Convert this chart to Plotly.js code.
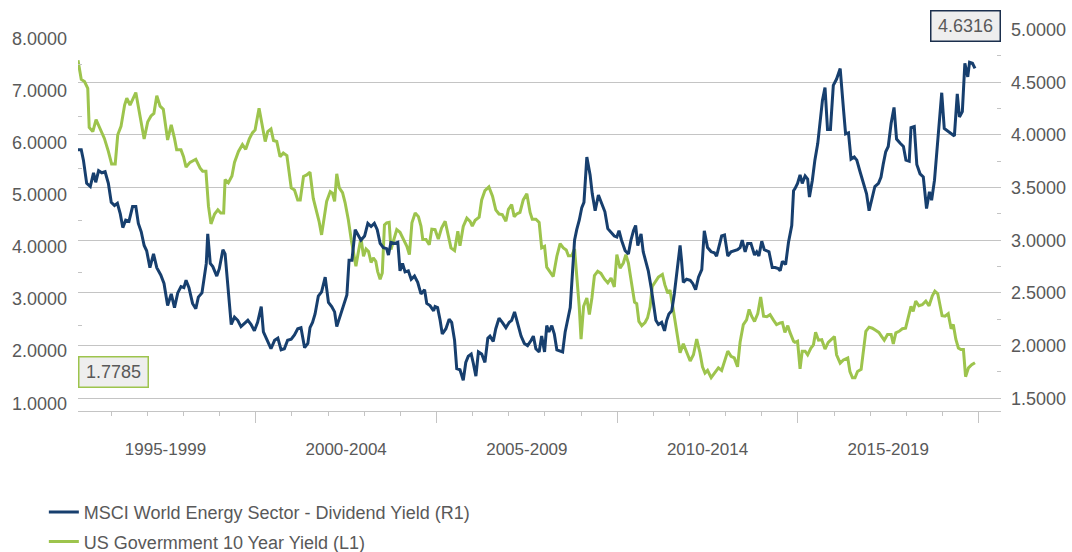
<!DOCTYPE html>
<html><head><meta charset="utf-8">
<script src="https://cdn.plot.ly/plotly-3.0.1.min.js"></script>
<style>html,body{margin:0;padding:0;background:#fff}#chart{width:1072px;height:552px}</style>
</head><body><div id="chart"></div>
<script>
// US Government 10 Year Yield (left axis, L1)
const yearsGov = [
1995.08,1995.17,1995.26,1995.35,1995.39,1995.49,1995.58,1995.69,1995.81,1995.92,1996.01,1996.11,1996.18,1996.27,1996.37,1996.43,1996.52,1996.68,1996.80,1996.91,1997.01,1997.10,1997.18,1997.26,1997.35,1997.44,1997.56,1997.66,1997.75,1997.81,1997.93,1998.00,1998.07,1998.18,1998.34,1998.46,1998.53,1998.62,1998.69,1998.76,1998.86,1998.95,1999.03,1999.11,1999.15,1999.24,1999.34,1999.41,1999.52,1999.63,1999.72,1999.82,1999.91,
1999.98,2000.09,2000.18,2000.26,2000.33,2000.42,2000.49,2000.58,2000.67,2000.76,2000.86,2000.98,2001.07,2001.16,2001.23,2001.32,2001.41,2001.50,2001.59,2001.69,2001.75,2001.82,2001.90,2001.96,2002.06,2002.12,2002.18,2002.24,2002.31,2002.40,2002.47,2002.56,2002.64,2002.70,2002.77,2002.84,2002.91,2002.98,2003.05,2003.12,2003.19,2003.25,2003.32,2003.37,2003.44,2003.50,2003.56,2003.62,2003.69,2003.74,2003.81,2003.90,2003.99,2004.09,2004.18,2004.25,2004.32,2004.41,2004.50,2004.57,2004.62,2004.71,2004.80,2004.87,
2004.96,2005.05,2005.14,2005.24,2005.33,2005.40,2005.50,2005.59,2005.65,2005.74,2005.84,2005.93,2005.99,2006.07,2006.18,2006.25,2006.34,2006.45,2006.55,2006.64,2006.73,2006.82,2006.92,2006.99,2007.08,2007.15,2007.22,2007.31,2007.40,2007.50,2007.59,2007.65,2007.75,2007.84,2007.91,2007.99,2008.05,2008.14,2008.23,2008.33,2008.42,2008.51,2008.59,2008.65,2008.74,2008.82,2008.88,2008.95,2009.00,2009.07,2009.16,2009.23,2009.30,2009.37,2009.46,2009.55,2009.65,2009.74,2009.83,2009.92,
2009.99,2010.08,2010.17,2010.24,2010.31,2010.40,2010.48,2010.54,2010.60,2010.68,2010.77,2010.84,2010.91,2010.97,2011.05,2011.14,2011.25,2011.32,2011.40,2011.46,2011.53,2011.60,2011.67,2011.74,2011.83,2011.92,2012.02,2012.11,2012.20,2012.29,2012.36,2012.43,2012.50,2012.60,2012.69,2012.80,2012.89,2012.98,2013.06,2013.15,2013.24,2013.33,2013.40,2013.49,2013.58,2013.65,2013.72,2013.80,2013.89,2013.97,2014.05,2014.14,2014.23,2014.32,2014.41,2014.51,2014.57,2014.64,2014.72,2014.78,2014.88,
2014.92,2014.99,2015.06,2015.12,2015.20,2015.27,2015.36,2015.43,2015.49,2015.57,2015.66,2015.75,2015.84,2015.93,2016.01,2016.07,2016.17,2016.26,2016.38,2016.44,2016.51,2016.58,2016.65,2016.75,2016.81,2016.88,2016.97,2017.06,2017.15,2017.24,2017.32,2017.39,2017.48,2017.58,2017.64,2017.71,2017.80,2017.89,2017.98,2018.06,2018.13,2018.19,2018.26,2018.35,2018.44,2018.54,2018.63,2018.72,2018.79,2018.87,2018.93,2018.99,2019.07,2019.16,2019.24,2019.30,2019.37,2019.44,2019.51,2019.58,2019.64,2019.72,2019.81,2019.90
];
const govYield = [
7.58,7.21,7.17,7.04,6.29,6.21,6.44,6.28,6.08,5.83,5.59,5.59,6.15,6.31,6.72,6.85,6.72,6.96,6.50,6.07,6.40,6.51,6.56,6.90,6.70,6.64,6.05,6.34,6.08,5.86,5.86,5.73,5.53,5.62,5.68,5.51,5.45,5.45,4.78,4.44,4.63,4.71,4.65,4.65,5.29,5.23,5.36,5.62,5.83,5.96,5.87,6.07,6.19,
6.24,6.66,6.31,6.02,6.21,6.26,6.04,6.02,5.73,5.80,5.75,5.13,5.09,4.90,4.90,5.35,5.38,5.43,4.93,4.68,4.49,4.23,4.65,4.87,5.06,5.03,4.87,5.40,5.13,5.04,4.85,4.52,4.14,3.88,3.63,3.91,4.17,3.82,3.96,3.91,3.70,3.79,3.72,3.53,3.38,3.50,4.42,4.46,4.47,3.95,4.14,4.33,4.28,4.15,4.01,3.85,4.46,4.65,4.58,4.40,4.14,4.14,4.04,4.34,
4.33,4.15,4.36,4.49,4.23,3.98,3.93,4.30,4.02,4.39,4.55,4.49,4.40,4.51,4.57,4.90,5.08,5.15,4.97,4.71,4.63,4.62,4.49,4.72,4.81,4.58,4.63,4.66,4.90,5.02,4.66,4.53,4.53,4.47,3.98,4.01,3.61,3.53,3.43,3.82,4.06,3.98,3.94,3.83,3.83,3.96,3.50,2.85,2.23,2.86,3.02,2.70,3.02,3.45,3.53,3.49,3.38,3.31,3.40,3.23,
3.85,3.59,3.69,3.85,3.69,3.31,2.94,2.91,2.57,2.49,2.55,2.64,2.85,3.24,3.32,3.42,3.47,3.27,3.11,3.17,2.89,2.57,2.22,1.97,2.14,1.97,1.81,1.93,2.23,1.97,1.70,1.58,1.63,1.49,1.58,1.68,1.63,1.83,2.00,1.90,1.87,1.70,2.17,2.51,2.60,2.80,2.67,2.57,2.72,3.04,2.67,2.66,2.70,2.60,2.51,2.54,2.55,2.36,2.49,2.36,2.19,
2.17,2.19,1.66,2.00,2.00,1.93,2.06,2.12,2.36,2.21,2.22,2.04,2.17,2.23,2.28,1.93,1.77,1.83,1.87,1.61,1.49,1.49,1.61,1.65,2.00,2.38,2.46,2.44,2.40,2.36,2.28,2.21,2.32,2.32,2.14,2.35,2.38,2.43,2.44,2.70,2.86,2.76,2.96,2.87,2.89,2.96,2.87,3.06,3.15,3.10,2.87,2.68,2.67,2.72,2.43,2.51,2.23,2.06,2.03,2.03,1.51,1.68,1.74,1.7785
];
// MSCI World Energy Sector - Dividend Yield (right axis, R1)
const yearsMsci = [
1995.08,1995.17,1995.23,1995.32,1995.42,1995.51,1995.57,1995.65,1995.74,1995.83,1995.92,1996.00,1996.09,1996.17,1996.25,1996.32,1996.40,1996.49,1996.59,1996.68,1996.75,1996.83,1996.91,1996.98,1997.07,1997.17,1997.26,1997.37,1997.46,1997.56,1997.66,1997.75,1997.84,1997.93,1998.01,1998.07,1998.15,1998.25,1998.34,1998.41,1998.51,1998.58,1998.63,1998.67,1998.74,1998.81,1998.92,1998.99,1999.09,1999.15,1999.23,1999.32,1999.41,1999.50,1999.59,1999.70,1999.78,1999.87,1999.96,
2000.05,2000.15,2000.21,2000.30,2000.42,2000.52,2000.61,2000.70,2000.79,2000.88,2000.98,2001.07,2001.16,2001.25,2001.35,2001.44,2001.50,2001.57,2001.64,2001.73,2001.82,2001.92,2002.01,2002.10,2002.18,2002.24,2002.33,2002.42,2002.52,2002.58,2002.66,2002.75,2002.84,2002.91,2003.01,2003.10,2003.19,2003.28,2003.36,2003.44,2003.53,2003.62,2003.67,2003.74,2003.84,2003.93,2003.99,2004.06,2004.13,2004.22,2004.30,2004.39,2004.48,2004.57,2004.67,2004.73,2004.82,2004.92,
2004.96,2005.03,2005.10,2005.16,2005.26,2005.35,2005.42,2005.50,2005.56,2005.65,2005.74,2005.81,2005.88,2005.96,2006.02,2006.09,2006.16,2006.25,2006.34,2006.42,2006.48,2006.57,2006.64,2006.73,2006.82,2006.92,2007.01,2007.08,2007.16,2007.25,2007.34,2007.43,2007.52,2007.62,2007.68,2007.75,2007.84,2007.91,2007.99,2008.05,2008.11,2008.19,2008.26,2008.33,2008.42,2008.49,2008.56,2008.63,2008.70,2008.76,2008.82,2008.88,2008.95,2009.02,2009.08,2009.16,2009.25,2009.31,2009.39,2009.48,2009.57,2009.66,2009.74,2009.83,2009.92,
2009.99,2010.05,2010.12,2010.22,2010.31,2010.38,2010.45,2010.51,2010.57,2010.66,2010.72,2010.79,2010.86,2010.94,2011.00,2011.07,2011.14,2011.23,2011.31,2011.37,2011.43,2011.51,2011.58,2011.65,2011.74,2011.78,2011.83,2011.92,2012.02,2012.09,2012.17,2012.25,2012.34,2012.41,2012.50,2012.60,2012.69,2012.75,2012.82,2012.89,2012.97,2013.06,2013.15,2013.24,2013.33,2013.40,2013.46,2013.54,2013.61,2013.70,2013.80,2013.86,2013.92,2014.00,2014.07,2014.14,2014.20,2014.29,2014.37,2014.46,2014.51,2014.57,2014.66,2014.74,2014.83,2014.88,
2014.92,2014.99,2015.06,2015.12,2015.20,2015.27,2015.32,2015.40,2015.47,2015.55,2015.61,2015.68,2015.75,2015.82,2015.90,2015.98,2016.07,2016.17,2016.26,2016.32,2016.40,2016.47,2016.56,2016.63,2016.72,2016.81,2016.90,2016.97,2017.04,2017.13,2017.23,2017.30,2017.36,2017.43,2017.50,2017.58,2017.66,2017.73,2017.83,2017.92,2017.99,2018.08,2018.13,2018.22,2018.29,2018.38,2018.47,2018.56,2018.64,2018.70,2018.78,2018.84,2018.91,2018.98,2019.05,2019.14,2019.24,2019.33,2019.41,2019.47,2019.55,2019.62,2019.70,2019.75,2019.83,2019.90
];
const msciYield = [
3.86,3.86,3.76,3.54,3.51,3.64,3.55,3.66,3.64,3.65,3.54,3.36,3.33,3.35,3.25,3.12,3.19,3.18,3.32,3.32,3.16,3.08,2.95,2.90,2.74,2.87,2.74,2.67,2.59,2.38,2.49,2.36,2.50,2.56,2.55,2.62,2.55,2.40,2.35,2.46,2.50,2.65,2.78,3.06,2.78,2.75,2.66,2.73,2.91,2.87,2.55,2.20,2.27,2.24,2.18,2.21,2.24,2.20,2.14,
2.22,2.37,2.13,2.06,1.97,2.05,2.07,1.96,1.97,2.05,2.06,2.10,2.16,2.17,1.98,2.02,2.17,2.22,2.30,2.47,2.51,2.65,2.41,2.37,2.32,2.18,2.28,2.38,2.48,2.81,2.81,3.10,3.04,3.00,3.04,3.16,3.13,3.16,3.10,2.97,2.93,2.92,2.86,2.98,2.97,2.98,2.71,2.78,2.70,2.71,2.63,2.66,2.60,2.49,2.53,2.40,2.38,2.33,
2.37,2.36,2.24,2.11,2.16,2.25,2.22,2.05,1.78,1.77,1.67,1.84,1.90,1.92,1.83,1.71,1.94,1.92,1.84,2.07,2.09,2.04,2.16,2.26,2.22,2.17,2.22,2.24,2.32,2.21,2.09,2.02,2.00,2.05,2.09,1.97,1.94,2.09,1.94,2.19,2.13,2.19,2.11,1.96,1.95,1.94,2.13,2.25,2.36,2.68,3.00,3.10,3.19,3.31,3.36,3.79,3.62,3.44,3.28,3.43,3.35,3.27,3.11,3.07,3.04,
3.03,3.09,3.00,2.90,2.87,3.00,3.09,3.14,2.95,3.06,2.89,2.81,2.71,2.55,2.38,2.24,2.20,2.22,2.14,2.24,2.30,2.33,2.49,2.70,2.95,2.81,2.60,2.63,2.62,2.59,2.53,2.65,2.72,3.09,2.93,2.89,2.88,2.85,2.96,3.04,3.05,2.85,2.89,2.90,2.91,2.93,3.00,2.89,2.97,2.97,2.86,2.89,2.85,2.99,2.91,2.90,2.89,2.74,2.74,2.73,2.71,2.80,2.77,2.98,3.14,3.47,
3.49,3.54,3.62,3.54,3.61,3.58,3.41,3.57,3.76,3.92,4.14,4.33,4.45,4.05,4.05,4.47,4.53,4.63,4.25,4.01,4.02,3.77,3.79,3.76,3.65,3.54,3.44,3.28,3.38,3.51,3.54,3.60,3.72,3.84,3.89,4.11,4.26,3.96,3.92,3.89,3.76,3.75,4.07,4.08,3.72,3.63,3.60,3.30,3.46,3.38,3.57,3.82,4.04,4.40,4.06,4.04,4.01,3.99,4.39,4.17,4.22,4.68,4.55,4.69,4.68,4.6316
];
const seriesNames = ['MSCI World Energy Sector - Dividend Yield (R1)', 'US Govermment 10 Year Yield (L1)'];
const periodLabels = ['1995-1999', '2000-2004', '2005-2009', '2010-2014', '2015-2019'];
const periodMids = [1997.5, 2002.5, 2007.5, 2012.5, 2017.5];
const periodBounds = [2000, 2005, 2010, 2015, 2020];
const leftTicks = [1, 2, 3, 4, 5, 6, 7, 8];
const rightTicks = [1.5, 2, 2.5, 3, 3.5, 4, 4.5, 5];

const FONT = '"Liberation Sans", Arial, Helvetica, sans-serif';
const TXT = '#595959';
const BLUE = '#173f6e';
const GREEN = '#9dc44d';
const AXC = '#c4c4c4';
const XR = [1995.08, 2020.62];

const traces = [
  {x: yearsMsci, y: msciYield, yaxis: 'y2', xaxis: 'x', name: seriesNames[0], type: 'scatter', mode: 'lines',
   line: {color: BLUE, width: 3}, legendgroup: 'a', hoverinfo: 'skip'},
  {x: yearsGov, y: govYield, yaxis: 'y', xaxis: 'x', name: seriesNames[1], type: 'scatter', mode: 'lines',
   line: {color: GREEN, width: 3}, legendgroup: 'b', hoverinfo: 'skip'},
  {x: [periodMids[0]], y: [null], xaxis: 'x2', yaxis: 'y', type: 'scatter', mode: 'lines',
   showlegend: false, hoverinfo: 'skip'}
];

const layout = {
  width: 1072, height: 552,
  margin: {l: 78, r: 71, t: 29, b: 141, autoexpand: false},
  paper_bgcolor: '#ffffff', plot_bgcolor: '#ffffff',
  font: {family: FONT, color: TXT, size: 18},
  showlegend: true,
  legend: {x: -0.037, xanchor: 'left', y: -0.217, yanchor: 'top', orientation: 'v',
           font: {family: FONT, size: 18, color: TXT}, tracegroupgap: 3, bgcolor: 'rgba(0,0,0,0)'},
  xaxis: {range: XR, tickvals: periodBounds, showticklabels: false, ticks: 'outside', ticklen: 11,
          tickcolor: AXC, tickwidth: 1, automargin: false,
          minor: {tick0: 1995, dtick: 1, ticks: 'outside', ticklen: 4, tickcolor: AXC, tickwidth: 1, showgrid: false},
          showline: true, linecolor: AXC, linewidth: 1, showgrid: false, zeroline: false, fixedrange: true},
  xaxis2: {overlaying: 'x', side: 'bottom', range: XR, tickvals: periodMids, ticktext: periodLabels,
           ticks: '', showline: false, showgrid: false, zeroline: false, automargin: false,
           tickfont: {family: FONT, size: 17, color: TXT}, ticklabelstandoff: 26},
  yaxis: {range: [0.852, 8.178], tickvals: leftTicks, tickformat: '.4f', ticks: '', automargin: false,
          minor: {tick0: 0.5, dtick: 1, ticks: 'inside', ticklen: 4, tickcolor: AXC, showgrid: false},
          showgrid: false, zeroline: false, showline: false,
          tickfont: {family: FONT, size: 18, color: TXT}, ticklabelstandoff: 10},
  yaxis2: {overlaying: 'y', side: 'right', range: [1.379, 5.005], tickvals: rightTicks, tickformat: '.4f',
           showgrid: true, gridcolor: AXC, gridwidth: 1, ticks: '', automargin: false,
           minor: {tick0: 1.75, dtick: 0.5, ticks: 'inside', ticklen: 4, tickcolor: AXC, showgrid: false},
           zeroline: false, showline: false,
           tickfont: {family: FONT, size: 18, color: TXT}, ticklabelstandoff: 9},
  annotations: [
    {xref: 'paper', yref: 'paper', x: 0, xanchor: 'left', y: 0.1034, yanchor: 'middle',
     text: govYield[govYield.length - 1].toFixed(4), showarrow: false,
     bgcolor: '#eeeeee', bordercolor: GREEN, borderwidth: 1.5, borderpad: 3, width: 62, height: 23,
     font: {family: FONT, size: 18, color: TXT}},
    {xref: 'paper', yref: 'paper', x: 1, xanchor: 'right', y: 1.008, yanchor: 'middle',
     text: msciYield[msciYield.length - 1].toFixed(4), showarrow: false,
     bgcolor: '#eeeeee', bordercolor: '#1b2f4d', borderwidth: 1.5, borderpad: 3, width: 62, height: 23,
     font: {family: FONT, size: 18, color: TXT}}
  ]
};

Plotly.newPlot('chart', traces, layout, {displayModeBar: false, staticPlot: true});
</script>
</body></html>
